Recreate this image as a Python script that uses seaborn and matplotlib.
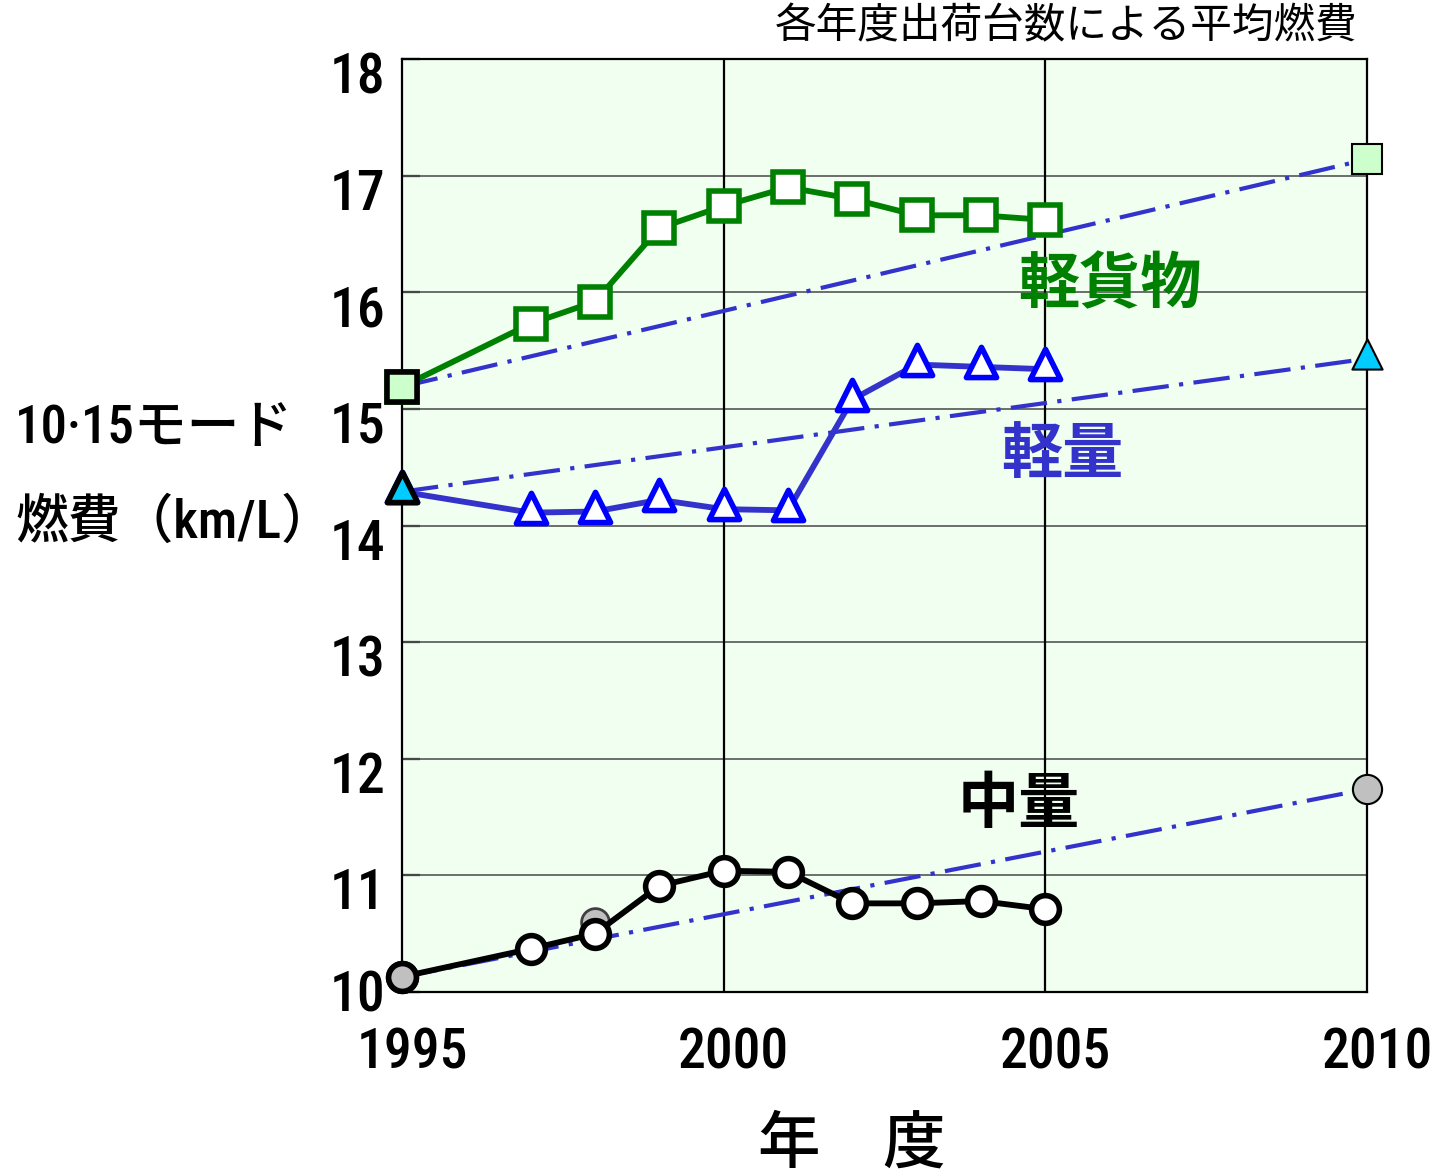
import matplotlib
matplotlib.use("Agg")
import matplotlib.pyplot as plt
import matplotlib.transforms as mtransforms
import matplotlib.font_manager as fm
from matplotlib.path import Path
import numpy as np
import pandas as pd
import seaborn as sns

# ---- data -------------------------------------------------------------
years = [1995, 1997, 1998, 1999, 2000, 2001, 2002, 2003, 2004, 2005]
kei_kamotsu = [15.19, 15.73, 15.92, 16.55, 16.74, 16.90, 16.80, 16.66, 16.66, 16.62]
keiryo = [14.29, 14.11, 14.12, 14.22, 14.14, 14.13, 15.08, 15.38, 15.36, 15.34]
churyo = [10.13, 10.37, 10.50, 10.91, 11.04, 11.03, 10.76, 10.76, 10.78, 10.71]
churyo_1998_prev = 10.60

target_year = 2010
target_kei_kamotsu = 17.14
target_keiryo = 15.43
target_churyo = 11.74

y_ticks = [10, 11, 12, 13, 14, 15, 16, 17, 18]
x_ticks = [1995, 2000, 2005, 2010]

series_names = ["軽貨物", "軽量", "中量"]
title_text = "各年度出荷台数による平均燃費"
ylabel_lines = ["10·15モード", "燃費（km/L）"]
xlabel_text = "年　度"

# ---- fonts --------------------------------------------------------------
sns.set_theme(style="white")
installed = {(f.name, f.stretch) for f in fm.fontManager.ttflist}
installed_names = {n for n, _ in installed}
num_stretch = "normal"
num_font = None
for cand in ["Liberation Sans Narrow", "Roboto Condensed", "Open Sans Condensed",
             "Noto Sans Condensed", "DejaVu Sans Condensed"]:
    if cand in installed_names:
        num_font = cand
        break
if num_font is None:
    for name, stretch in installed:
        if name == "DejaVu Sans" and str(stretch) in ("condensed", "semi-condensed", "600", "500"):
            num_font, num_stretch = "DejaVu Sans", "condensed"
            break
if num_font is None:
    num_font = "Noto Sans CJK JP"

cjk = ["Noto Sans CJK JP", "DejaVu Sans"]
mixed = [num_font, "Noto Sans CJK JP", "DejaVu Sans"]
plt.rcParams["font.family"] = mixed
plt.rcParams["font.stretch"] = num_stretch
narrow_ok = num_font != "Noto Sans CJK JP"
tick_size = 40 if narrow_ok else 36
ylab_size = 38 if narrow_ok else 33

GREEN = "#008000"
LINE_BLUE = "#3333CC"
EDGE_BLUE = "#0000FF"
BG = "#F0FFF0"

LW = 4.2      # series line width
MEW = 4.0     # series marker edge width

# triangle whose origin sits on the centroid
tri_verts = [(0, 4 / 3), (-1, -2 / 3), (1, -2 / 3), (0, 4 / 3)]
TRI = Path(tri_verts, closed=True)

W, H = 1438, 1175
fig = plt.figure(figsize=(W / 100, H / 100), dpi=100)
ax = fig.add_axes([402 / W, 1 - 992 / H, (1367 - 402) / W, (992 - 59) / H])
ax.set_facecolor(BG)

# ---- trend lines from 1995 to the 2010 target ---------------------------
dashdot = (0, (8.75, 2.5, 1.0, 2.5))
for start, target in [(kei_kamotsu[0], target_kei_kamotsu),
                      (keiryo[0], target_keiryo),
                      (churyo[0], target_churyo)]:
    df = pd.DataFrame({"year": [years[0], target_year], "value": [start, target]})
    sns.lineplot(data=df, x="year", y="value", ax=ax, color=LINE_BLUE,
                 linewidth=3.0, linestyle=dashdot, dash_capstyle="butt",
                 zorder=3, clip_on=False)

# ---- actual series ----------------------------------------------------
df_g = pd.DataFrame({"year": years, "value": kei_kamotsu})
sns.lineplot(data=df_g, x="year", y="value", ax=ax, color=GREEN, linewidth=LW,
             marker="s", markersize=21, markerfacecolor="white",
             markeredgecolor=GREEN, markeredgewidth=MEW, zorder=5, clip_on=False)

df_b = pd.DataFrame({"year": years, "value": keiryo})
sns.lineplot(data=df_b, x="year", y="value", ax=ax, color=LINE_BLUE, linewidth=LW,
             marker=TRI, markersize=29, markerfacecolor="white",
             markeredgecolor=EDGE_BLUE, markeredgewidth=MEW, zorder=5, clip_on=False)

# earlier 1998 value for the mid-size series, partly hidden behind the newer one
sns.lineplot(x=[1998], y=[churyo_1998_prev], ax=ax, marker="o", markersize=20,
             markerfacecolor="#C0C0C0", markeredgecolor="#404040",
             markeredgewidth=2.0, zorder=4, clip_on=False)

df_k = pd.DataFrame({"year": years, "value": churyo})
sns.lineplot(data=df_k, x="year", y="value", ax=ax, color="black", linewidth=LW,
             marker="o", markersize=20, markerfacecolor="white",
             markeredgecolor="black", markeredgewidth=MEW, zorder=5, clip_on=False)

# 1995 base points (highlighted)
sns.lineplot(x=[1995], y=[kei_kamotsu[0]], ax=ax, marker="s", markersize=21,
             markerfacecolor="#CCFFCC", markeredgecolor="black",
             markeredgewidth=MEW, zorder=6, clip_on=False)
sns.lineplot(x=[1995], y=[keiryo[0]], ax=ax, marker=TRI, markersize=29,
             markerfacecolor="#00CCFF", markeredgecolor="black",
             markeredgewidth=MEW, zorder=6, clip_on=False)
sns.lineplot(x=[1995], y=[churyo[0]], ax=ax, marker="o", markersize=20,
             markerfacecolor="#C0C0C0", markeredgecolor="black",
             markeredgewidth=MEW, zorder=6, clip_on=False)

# 2010 targets
sns.lineplot(x=[target_year], y=[target_kei_kamotsu], ax=ax, marker="s",
             markersize=21, markerfacecolor="#CCFFCC", markeredgecolor="black",
             markeredgewidth=1.5, zorder=6, clip_on=False)
sns.lineplot(x=[target_year], y=[target_keiryo], ax=ax, marker=TRI,
             markersize=29, markerfacecolor="#00CCFF", markeredgecolor="black",
             markeredgewidth=1.5, zorder=6, clip_on=False)
sns.lineplot(x=[target_year], y=[target_churyo], ax=ax, marker="o",
             markersize=21, markerfacecolor="#C0C0C0", markeredgecolor="black",
             markeredgewidth=1.5, zorder=6, clip_on=False)

# ---- axes ---------------------------------------------------------------
ax.set_xlim(1995, 2010)
ax.set_ylim(10, 18)
ax.set_xticks(x_ticks)
ax.set_yticks(y_ticks)
ax.set_xlabel("")
ax.set_ylabel("")

ax.grid(False)
for yv in y_ticks[1:-1]:
    ax.axhline(yv, color="#555555", linewidth=1.2, zorder=1)
for xv in x_ticks[1:-1]:
    ax.axvline(xv, color="black", linewidth=1.6, zorder=1)

for side in ["left", "right", "top", "bottom"]:
    ax.spines[side].set_visible(True)
    ax.spines[side].set_color("black")
    ax.spines[side].set_linewidth(1.6)

ax.tick_params(axis="y", direction="in", length=13, width=1.6, color="black",
               labelsize=tick_size, pad=12, left=True, labelcolor="black")
ax.tick_params(axis="x", length=0, labelsize=tick_size, pad=25, labelcolor="black")
for lab in ax.get_yticklabels() + ax.get_xticklabels():
    lab.set_fontweight("medium")

fig.canvas.draw()
down = mtransforms.ScaledTranslation(0, -0.13, fig.dpi_scale_trans)
up = mtransforms.ScaledTranslation(0, 0.02, fig.dpi_scale_trans)
for lab in ax.get_yticklabels():
    if lab.get_text() == "10":
        lab.set_transform(lab.get_transform() + up)
    else:
        lab.set_transform(lab.get_transform() + down)
right = mtransforms.ScaledTranslation(0.10, 0, fig.dpi_scale_trans)
for lab in ax.get_xticklabels():
    lab.set_transform(lab.get_transform() + right)

# ---- series names -----------------------------------------------------
ax.text(2006.0, 16.06, series_names[0], color=GREEN, fontsize=44,
        fontweight="bold", family=cjk, ha="center", va="center", zorder=7)
ax.text(2005.26, 14.60, series_names[1], color=LINE_BLUE, fontsize=44,
        fontweight="bold", family=cjk, ha="center", va="center", zorder=7)
ax.text(2004.58, 11.60, series_names[2], color="black", fontsize=44,
        fontweight="bold", family=cjk, ha="center", va="center", zorder=7)

# ---- titles -----------------------------------------------------------
fig.text(1357 / W, 1 - 27 / H, title_text, fontsize=30, family=cjk,
         ha="right", va="center", color="black")
fig.text(15 / W, 1 - 428 / H, ylabel_lines[0], fontsize=ylab_size,
         fontweight="medium", ha="left", va="center", color="black")
fig.text(15 / W, 1 - 523 / H, ylabel_lines[1], fontsize=ylab_size,
         fontweight="medium", ha="left", va="center", color="black")
fig.text(852 / W, 1 - 1145 / H, xlabel_text, fontsize=45, family=cjk,
         fontweight="medium", ha="center", va="center", color="black")

fig.savefig("out.png", dpi=100, facecolor="white")
